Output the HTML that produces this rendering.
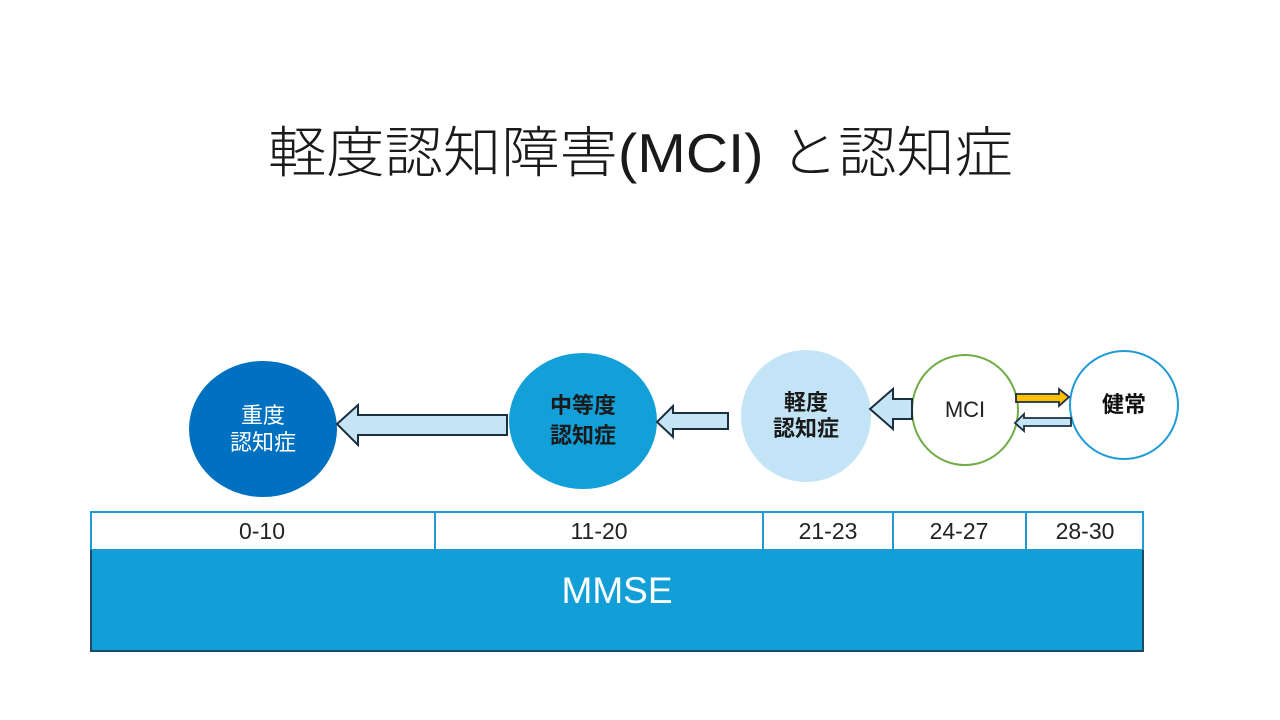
<!DOCTYPE html>
<html>
<head>
<meta charset="utf-8">
<style>
html,body{margin:0;padding:0;background:#fff;}
svg{display:block;}
text{font-family:"Liberation Sans","Noto Sans CJK JP",sans-serif;}
</style>
</head>
<body>
<svg width="1280" height="720" viewBox="0 0 1280 720" xmlns="http://www.w3.org/2000/svg">
  <rect width="1280" height="720" fill="#ffffff"/>

  <!-- Title -->
  <text x="268" y="172" font-size="55" font-weight="300" fill="#1a1a1a" textLength="745" lengthAdjust="spacingAndGlyphs">軽度認知障害(MCI) と認知症</text>

  <!-- Circles -->
  <ellipse cx="263" cy="429" rx="74" ry="68" fill="#0070C0"/>
  <ellipse cx="583" cy="421" rx="74" ry="68" fill="#139fd8"/>
  <ellipse cx="806" cy="416" rx="65" ry="66" fill="#c2e4f6"/>
  <ellipse cx="965" cy="410" rx="53" ry="55" fill="#ffffff" stroke="#70AD47" stroke-width="2"/>
  <ellipse cx="1124" cy="405" rx="54" ry="54" fill="#ffffff" stroke="#1f9ad6" stroke-width="2"/>

  <!-- Arrows -->
  <polygon points="337,424 358,405 358,415 507,415 507,435 358,435 358,445" fill="#c5e4f5" stroke="#1b2f3f" stroke-width="2" stroke-linejoin="miter"/>
  <polygon points="657,422 673,406 673,413 728,413 728,429 673,429 673,437" fill="#c5e4f5" stroke="#1b2f3f" stroke-width="2"/>
  <polygon points="870,409 893,389 893,399 912,399 912,419 893,419 893,429" fill="#c5e4f5" stroke="#1b2f3f" stroke-width="2"/>
  <polygon points="1069,397 1059,389 1059,394 1016,394 1016,402 1059,402 1059,406" fill="#FFC000" stroke="#1b2f3f" stroke-width="1.8"/>
  <polygon points="1015,423 1024,414 1024,418 1071,418 1071,426 1024,426 1024,431" fill="#c5e4f5" stroke="#1b2f3f" stroke-width="1.8"/>

  <!-- Circle labels -->
  <g font-size="22" text-anchor="middle">
    <text x="263" y="423" fill="#ffffff">重度</text>
    <text x="263" y="450" fill="#ffffff">認知症</text>
    <text x="583" y="413" fill="#1a1a1a" font-weight="bold">中等度</text>
    <text x="583" y="443" fill="#1a1a1a" font-weight="bold">認知症</text>
    <text x="806" y="410" fill="#1a1a1a" font-weight="bold">軽度</text>
    <text x="806" y="436" fill="#1a1a1a" font-weight="bold">認知症</text>
    <text x="965" y="417" fill="#222">MCI</text>
    <text x="1124" y="412" fill="#111" font-weight="bold">健常</text>
  </g>

  <!-- Table -->
  <rect x="91" y="512" width="1052" height="38" fill="#ffffff" stroke="#1f9ad3" stroke-width="2"/>
  <line x1="435" y1="512" x2="435" y2="550" stroke="#1f9ad3" stroke-width="2"/>
  <line x1="763" y1="512" x2="763" y2="550" stroke="#1f9ad3" stroke-width="2"/>
  <line x1="893" y1="512" x2="893" y2="550" stroke="#1f9ad3" stroke-width="2"/>
  <line x1="1026" y1="512" x2="1026" y2="550" stroke="#1f9ad3" stroke-width="2"/>
  <rect x="91" y="550" width="1052" height="101" fill="#129ed6"/>
  <polyline points="91,550 91,651 1143,651 1143,550" fill="none" stroke="#1c4a66" stroke-width="2"/>

  <g font-size="23" text-anchor="middle" fill="#222">
    <text x="262" y="539">0-10</text>
    <text x="599" y="539">11-20</text>
    <text x="828" y="539">21-23</text>
    <text x="959" y="539">24-27</text>
    <text x="1085" y="539">28-30</text>
  </g>
  <text x="617" y="603" font-size="37" text-anchor="middle" fill="#ffffff">MMSE</text>
</svg>
</body>
</html>
